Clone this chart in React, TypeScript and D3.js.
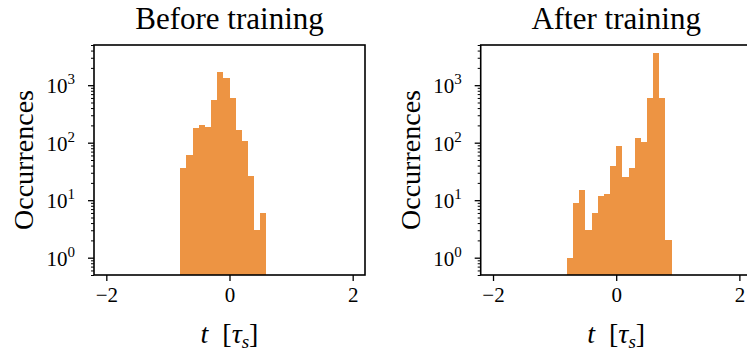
import React, { useEffect, useRef } from 'react'
import * as d3 from 'd3'

// histogram bin edges (t in units of tau_s)
const beforeEdges = [-0.8, -0.7, -0.6, -0.5, -0.4, -0.3, -0.2, -0.1, 0.0, 0.1, 0.2, 0.3, 0.4, 0.5, 0.6]
const beforeCounts = [37, 60, 178, 201, 186, 548, 1683, 1324, 594, 165, 106, 26, 3, 6]

const afterEdges = [-0.8, -0.7, -0.6, -0.5, -0.4, -0.3, -0.2, -0.1, 0.0, 0.1, 0.2, 0.3, 0.4, 0.5, 0.6, 0.7, 0.8, 0.9]
const afterCounts = [1, 9, 15, 3, 6, 12, 13, 40, 87, 25, 36, 119, 102, 594, 3606, 594, 2]

const titles = ['Before training', 'After training']
const xTicks = [-2, 0, 2]
const yMajor = [1, 10, 100, 1000]
const yExponents = ['0', '1', '2', '3']

const FONT = '"Liberation Serif", "DejaVu Serif", serif'
const BAR = '#ed9443'

const App = () => {
  const ref = useRef<SVGSVGElement>(null)

  useEffect(() => {
    draw()
  })

  const draw = () => {
    const width = 271
    const height = 230
    const top = 45
    const lefts = [94, 480.7]
    const svg = d3.select(ref.current)
    svg.selectAll('*').remove()

    const panels = [
      { edges: beforeEdges, counts: beforeCounts },
      { edges: afterEdges, counts: afterCounts },
    ]

    panels.forEach((p, k) => {
      const g = svg.append('g').attr('transform', `translate(${lefts[k]},${top})`)
      const x = d3.scaleLinear().domain([-2.2, 2.2]).range([0, width])
      const y = d3.scaleLog().domain([0.5, 5000]).range([height, 0])

      g.append('g')
        .attr('shape-rendering', 'crispEdges')
        .selectAll('rect')
        .data(p.counts)
        .enter()
        .append('rect')
        .attr('x', (_d, i) => x(p.edges[i]))
        .attr('width', (_d, i) => x(p.edges[i + 1]) - x(p.edges[i]))
        .attr('y', (d) => y(d))
        .attr('height', (d) => height - y(d))
        .style('fill', BAR)

      // x axis
      const xa = g.append('g')
        .attr('transform', `translate(0,${height})`)
        .call(d3.axisBottom(x).tickValues(xTicks).tickSize(6).tickPadding(6).tickFormat(d3.format('d')))
      xa.select('.domain').remove()
      xa.selectAll('line').attr('stroke', '#000').attr('stroke-width', 1.3)
      xa.selectAll('text')
        .attr('font-family', FONT)
        .attr('font-size', 21)
        .attr('fill', '#000')

      // y axis, minor then major ticks
      const minor = y.ticks().filter((v) => !yMajor.includes(v))
      const ym = g.append('g').call(d3.axisLeft(y).tickValues(minor).tickSize(3).tickFormat(() => ''))
      ym.select('.domain').remove()
      ym.selectAll('line').attr('stroke', '#000').attr('stroke-width', 1)
      const ya = g.append('g').call(d3.axisLeft(y).tickValues(yMajor).tickSize(6).tickFormat(() => ''))
      ya.select('.domain').remove()
      ya.selectAll('line').attr('stroke', '#000').attr('stroke-width', 1.3)

      const labels = g.append('g')
        .selectAll('text')
        .data(yMajor)
        .enter()
        .append('text')
        .attr('x', -19)
        .attr('y', (d) => y(d) + 8)
        .attr('text-anchor', 'end')
        .attr('font-family', FONT)
        .attr('font-size', 21)
      labels.append('tspan').text('10')
      labels.append('tspan')
        .attr('font-size', 15)
        .attr('dy', -9)
        .text((_d, i) => yExponents[i])

      // spines
      g.append('rect')
        .attr('width', width)
        .attr('height', height)
        .attr('fill', 'none')
        .attr('stroke', '#000')
        .attr('stroke-width', 1.6)

      g.append('text')
        .attr('x', width / 2)
        .attr('y', -16)
        .attr('text-anchor', 'middle')
        .attr('font-family', FONT)
        .attr('font-size', 31)
        .text(titles[k])

      g.append('text')
        .attr('transform', `translate(-61,${height / 2}) rotate(-90)`)
        .attr('text-anchor', 'middle')
        .attr('font-family', FONT)
        .attr('font-size', 28)
        .text('Occurrences')

      const xl = g.append('text')
        .attr('x', width / 2)
        .attr('y', height + 68)
        .attr('text-anchor', 'middle')
        .attr('font-family', FONT)
        .attr('font-size', 28)
      xl.append('tspan').attr('font-style', 'italic').text('t')
      xl.append('tspan').text('\u2002[')
      xl.append('tspan').attr('font-style', 'italic').text('τ')
      xl.append('tspan').attr('font-style', 'italic').attr('font-size', 19).attr('dy', 5).text('s')
      xl.append('tspan').attr('dy', -5).text(']')
    })
  }

  return (
    <svg
      ref={ref}
      width={747}
      height={358}
      style={{ position: 'absolute', left: 0, top: 0, background: '#fff' }}
    />
  )
}

export default App
